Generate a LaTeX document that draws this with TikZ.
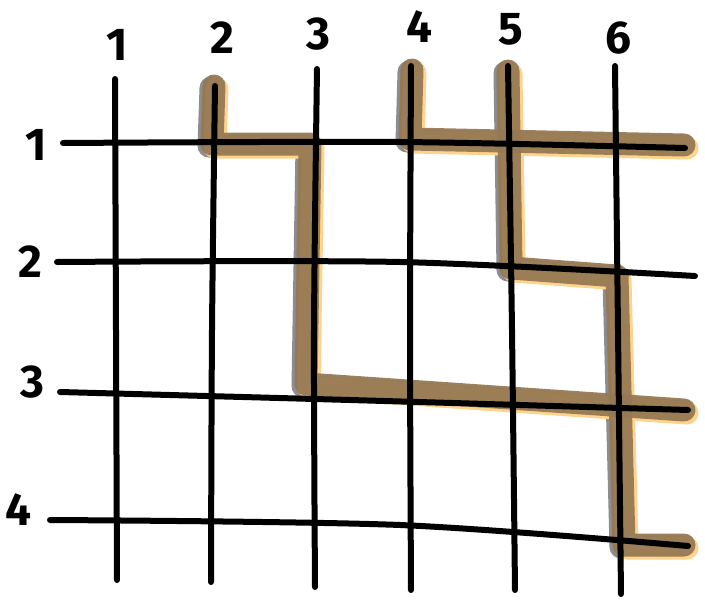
\documentclass[tikz,border=0pt]{standalone}
\usepackage{fontspec}
\setmainfont{Fira Sans}
\usepackage{tikz}
\usetikzlibrary{positioning}

\definecolor{markbrown}{RGB}{150,121,84}
\definecolor{markshade}{RGB}{140,140,145}
\definecolor{markglow}{RGB}{255,211,140}

\begin{document}
\begin{tikzpicture}[
  x=1pt, y=-1pt,
  ink/.style={line width=6pt, line cap=round, line join=round, black},
  hilite/.style={line width=23pt, line cap=round, line join=round, markbrown, opacity=0.95},
  shade/.style={line width=23pt, line cap=round, line join=round, markshade},
  glow/.style={line width=23pt, line cap=round, line join=round, markglow},
  num/.style={font=\fontsize{46}{46}\selectfont\bfseries, inner sep=0pt}
]
  \useasboundingbox (0,0) rectangle (705,603);

  % column labels
  \node[num] (c1) at (117,45) {1};
  \node[num] (c2) at (222,38) {2};
  \node[num] (c3) at (318,34) {3};
  \node[num] (c4) at (419,27) {4};
  \node[num] (c5) at (511,29) {5};
  \node[num] (c6) at (618,38) {6};

  % row labels
  \node[num] (r1) at (36,145) {1};
  \node[num] (r2) at (30,262) {2};
  \node[num] (r3) at (32,382) {3};
  \node[num] (r4) at (18,510) {4};

  % marked route
  \foreach \dx/\dy/\sty in {-3/2/shade, 3/3/glow, 0/0/hilite} {
    \begin{scope}[shift={(\dx,\dy)}]
      \draw[\sty] (214,86) -- (212,144) -- (310,144) -- (306,384) -- (684,410);
      \draw[\sty] (412,70) -- (410,139) -- (684,145);
      \draw[\sty] (508,71) -- (511,268) -- (617,276) -- (624,545) -- (684,545);
    \end{scope}
  }

  % grid, columns
  \draw[ink] plot[smooth] coordinates {(115,79) (116,330) (117,580)};
  \draw[ink] plot[smooth] coordinates {(215,86) (212,330) (211,582)};
  \draw[ink] plot[smooth] coordinates {(317,69) (314,330) (315,587)};
  \draw[ink] plot[smooth] coordinates {(411,66) (410,330) (411,590)};
  \draw[ink] plot[smooth] coordinates {(508,66) (512,330) (515,590)};
  \draw[ink] plot[smooth] coordinates {(615,66) (618,330) (621,594)};

  % grid, rows
  \draw[ink] plot[smooth] coordinates {(63,143) (400,142) (685,148)};
  \draw[ink] plot[smooth] coordinates {(57,262) (400,262) (695,276)};
  \draw[ink] plot[smooth] coordinates {(60,392) (350,400) (688,410)};
  \draw[ink] plot[smooth] coordinates {(50,520) (400,525) (688,546)};
\end{tikzpicture}
\end{document}
